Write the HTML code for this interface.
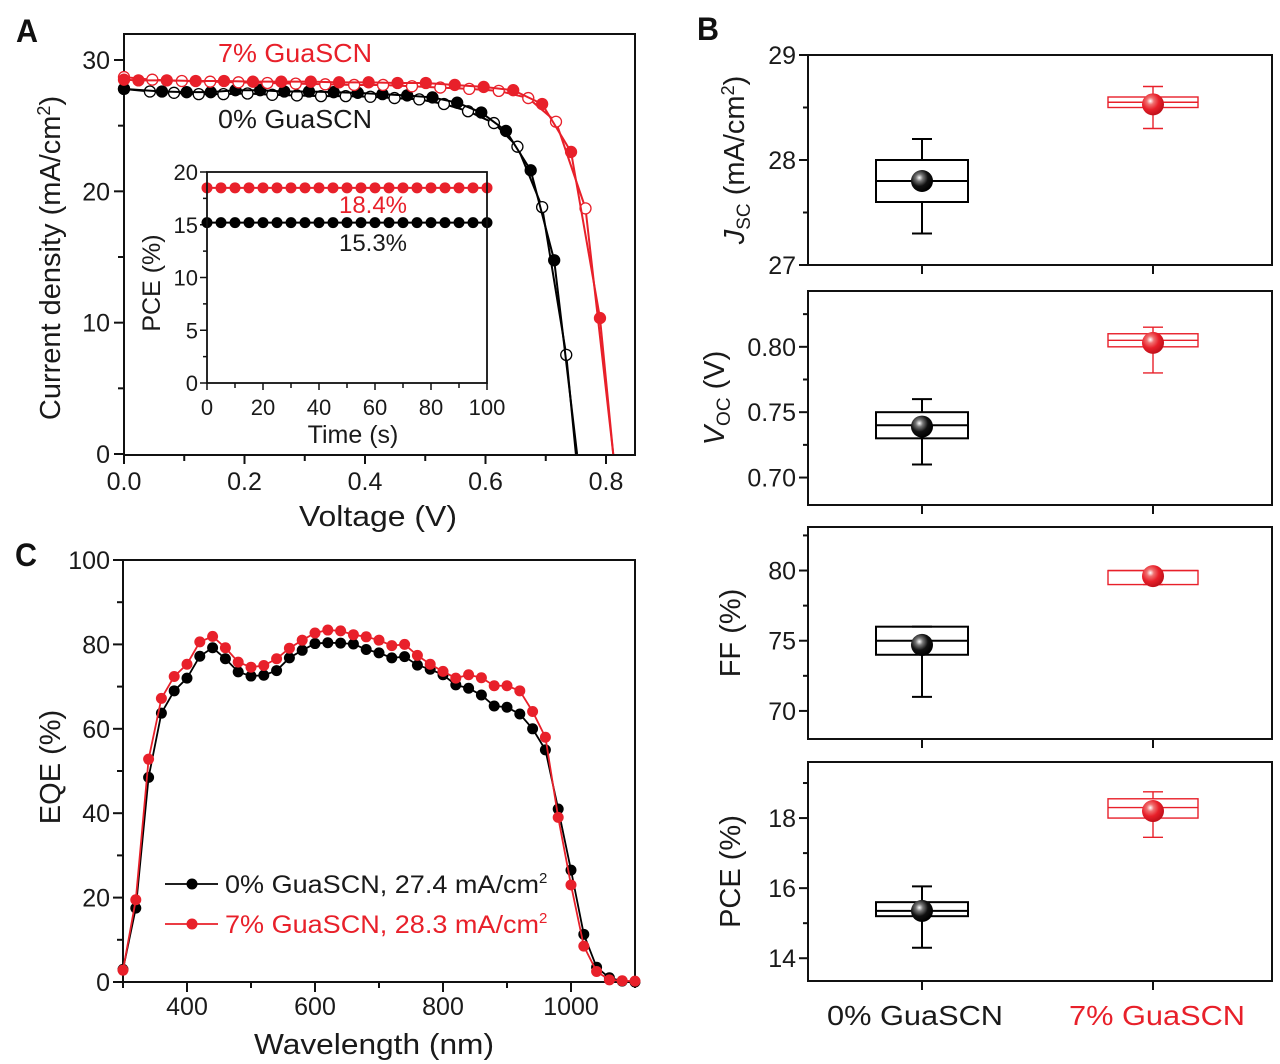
<!DOCTYPE html>
<html><head><meta charset="utf-8">
<style>
html,body{margin:0;padding:0;background:#fff;}
svg{display:block;font-family:"Liberation Sans",sans-serif;}
</style></head>
<body>
<svg id="fig" width="1280" height="1064" viewBox="0 0 1280 1064" xmlns="http://www.w3.org/2000/svg">
<defs>
<radialGradient id="gBlack" cx="0.38" cy="0.35" r="0.65"><stop offset="0" stop-color="#fff"/><stop offset="0.25" stop-color="#777"/><stop offset="0.6" stop-color="#111"/><stop offset="1" stop-color="#000"/></radialGradient>
<radialGradient id="gRed" cx="0.38" cy="0.35" r="0.65"><stop offset="0" stop-color="#fff"/><stop offset="0.25" stop-color="#f07070"/><stop offset="0.6" stop-color="#e8202a"/><stop offset="1" stop-color="#c0101a"/></radialGradient>
</defs>
</svg>
<script>
// ---------- Panel A data (J-V) ----------
const jvBlackOpenV = [0,0.043,0.083,0.124,0.165,0.205,0.246,0.287,0.327,0.368,0.409,0.449,0.490,0.531,0.571,0.614,0.653,0.694,0.734,0.750];
const jvBlackOpenJ = [27.8,27.6,27.5,27.4,27.4,27.45,27.35,27.3,27.25,27.25,27.2,27.1,27.0,26.65,26.1,25.2,23.4,18.8,7.55,0];
const jvBlackFillV = [0,0.063,0.104,0.144,0.185,0.226,0.266,0.307,0.348,0.388,0.429,0.470,0.512,0.553,0.593,0.634,0.675,0.714,0.752];
const jvBlackFillJ = [27.8,27.6,27.55,27.55,27.7,27.7,27.6,27.6,27.55,27.5,27.4,27.3,27.15,26.75,26.0,24.6,21.6,14.75,0];
const jvRedFillV = [0,0.024,0.071,0.119,0.166,0.214,0.261,0.310,0.357,0.406,0.454,0.501,0.549,0.597,0.646,0.694,0.742,0.790,0.812];
const jvRedFillJ = [28.5,28.45,28.45,28.4,28.4,28.35,28.35,28.35,28.3,28.3,28.25,28.25,28.1,27.95,27.7,26.65,23.0,10.35,0];
const jvRedOpenV = [0,0.047,0.096,0.143,0.190,0.238,0.285,0.334,0.382,0.430,0.478,0.525,0.573,0.622,0.671,0.717,0.766,0.812];
const jvRedOpenJ = [28.7,28.5,28.4,28.35,28.3,28.25,28.2,28.15,28.1,28.1,28.0,27.9,27.8,27.65,27.1,25.3,18.7,0];
const jvMarkedBlackOpen = 19, jvMarkedBlackFill = 18, jvMarkedRedFill = 18, jvMarkedRedOpen = 17;
const jvXTicks = [0,0.2,0.4,0.6,0.8];
const jvYTicks = [0,10,20,30];
// inset (PCE vs time)
const insetTime = [0,5,10,15,20,25,30,35,40,45,50,55,60,65,70,75,80,85,90,95,100];
const insetRed = [18.5,18.5,18.5,18.5,18.5,18.5,18.5,18.5,18.5,18.5,18.5,18.5,18.5,18.5,18.5,18.5,18.5,18.5,18.5,18.5,18.5];
const insetBlack = [15.2,15.2,15.2,15.2,15.2,15.2,15.2,15.2,15.2,15.2,15.2,15.2,15.2,15.2,15.2,15.2,15.2,15.2,15.2,15.2,15.2];
const insetXTicks = [0,20,40,60,80,100];
const insetYTicks = [0,5,10,15,20];
// ---------- Panel C data (EQE) ----------
const eqeWl = [300,320,340,360,380,400,420,440,460,480,500,520,540,560,580,600,620,640,660,680,700,720,740,760,780,800,820,840,860,880,900,920,940,960,980,1000,1020,1040,1060,1080,1100];
const eqeBlack = [3,17.5,48.5,63.7,69,72,77.2,79.2,76.6,73.5,72.5,72.7,73.8,76.8,78.6,80.2,80.4,80.3,80.1,78.8,78,76.8,77.1,75.1,74.1,72.8,70.4,69.6,68,65.4,65.1,63.5,60,55,41,26.5,11.3,3.5,1,0.2,0];
const eqeRed = [2.8,19.5,52.8,67.2,72.4,75.3,80.6,81.9,79.2,75.8,74.6,75,76.6,79.1,81,82.7,83.4,83.2,82.3,81.8,81,79.7,80,77.4,75.3,73.6,72,72.8,72.1,70.2,70.2,69,64.1,58,39,23,8.5,2.5,0.5,0.3,0.2];
const eqeXTicks = [400,600,800,1000];
const eqeYTicks = [0,20,40,60,80,100];
// ---------- Panel B data (box stats) ----------
const groups = ["0% GuaSCN","7% GuaSCN"];
const jscStats = [[27.3,27.6,27.8,28.0,28.2,27.8],[28.3,28.5,28.55,28.6,28.7,28.53]];
const vocStats = [[0.71,0.73,0.74,0.75,0.76,0.739],[0.78,0.80,0.805,0.81,0.815,0.803]];
const ffStats = [[71,74,75,76,76,74.7],[79,79,80,80,80,79.6]];
const pceStats = [[14.3,15.2,15.35,15.6,16.05,15.35],[17.45,18.0,18.3,18.55,18.75,18.2]];
const jscTicks = [27,28,29];
const vocTicks = [0.70,0.75,0.80];
const ffTicks = [70,75,80];
const pceTicks = [14,16,18];

const NS = "http://www.w3.org/2000/svg";
const svg = document.getElementById('fig');
const RED = "#e8202a";
function mk(tag, attrs, parent){
  const e = document.createElementNS(NS, tag);
  for (const k in attrs) e.setAttribute(k, attrs[k]);
  (parent||svg).appendChild(e);
  return e;
}
function lin(d0,d1,p0,p1){ return v => p0 + (v-d0)*(p1-p0)/(d1-d0); }
function txt(s, x, y, size, opts, parent){
  opts = opts||{};
  const t = mk('text', {x:x, y:y, 'font-size':size, fill:opts.fill||'#1a1a1a', 'text-anchor':opts.anchor||'middle'}, parent);
  if (opts.rot) t.setAttribute('transform', 'rotate(-90 '+x+' '+y+')');
  if (opts.weight) t.setAttribute('font-weight', opts.weight);
  if (opts.len) { t.setAttribute('textLength', opts.len); t.setAttribute('lengthAdjust','spacingAndGlyphs'); }
  t.textContent = s;
  return t;
}
function grp(){ return mk('g', {}); }

// ============ PANEL A ============
const A = grp();


const ax = lin(0, 0.8, 124, 606), ay = lin(0, 30, 454, 60);
let f = mk('rect', {x:124, y:34, width:511, height:421, fill:'none', stroke:'#111', 'stroke-width':2}, A);


for (let v=0; v<=0.85; v+=0.1) { const x=ax(v); const major = Math.abs(Math.round(v*10)%2)===0; mk('line',{x1:x,x2:x,y1:455,y2:major?464:461,stroke:'#111','stroke-width':2},A); }
for (let v=0; v<=31; v+=5) { const y=ay(v); const major = v%10===0; mk('line',{x1:124,x2:major?114:118,y1:y,y2:y,stroke:'#111','stroke-width':2},A); }
jvXTicks.forEach(v => { const t = txt(v.toFixed(1), ax(v), 490, 25, {}, A);   });
jvYTicks.forEach(v => { const t = txt(String(v), 110, ay(v)+9, 25, {anchor:'end'}, A);   });
let t = txt('Voltage (V)', 378, 526, 29, {len:158}, A);


t = mk('text', {x:60, y:258, 'font-size':29, fill:'#1a1a1a', 'text-anchor':'middle', transform:'rotate(-90 60 258)'}, A);


t.innerHTML = 'Current density (mA/cm<tspan dy="-10" font-size="18">2</tspan><tspan dy="10">)</tspan>';
t = txt('7% GuaSCN', 295, 62, 26, {fill:RED, len:154}, A);


t = txt('0% GuaSCN', 295, 128, 26, {len:154}, A);



function jvSeries(V, J, nMarked, color, filled, name){
  const g = mk('g', {}, A);
  
  
  const pts = V.map((v,i)=>ax(v)+','+ay(J[i])).join(' ');
  mk('polyline', {points:pts, fill:'none', stroke:color, 'stroke-width':2}, g);
  for (let i=0;i<nMarked;i++){
    const c = mk('circle', {cx:ax(V[i]), cy:ay(J[i]), r:5.5, fill: filled?color:'#fff', stroke:color, 'stroke-width':1.3}, g);
    
    
  }
}
jvSeries(jvBlackOpenV, jvBlackOpenJ, jvMarkedBlackOpen, '#000', false, 'series-0-reverse');
jvSeries(jvBlackFillV, jvBlackFillJ, jvMarkedBlackFill, '#000', true, 'series-0-forward');
jvSeries(jvRedOpenV, jvRedOpenJ, jvMarkedRedOpen, RED, false, 'series-7-reverse');
jvSeries(jvRedFillV, jvRedFillJ, jvMarkedRedFill, RED, true, 'series-7-forward');

// inset
const I = mk('g', {}, A);


const ix = lin(0,100,207,487), iy = lin(0,20,383,172);
mk('rect', {x:207, y:172, width:280, height:211, fill:'#fff', stroke:'none'}, I);
for (let v=0; v<=100; v+=10){ const x=ix(v); mk('line',{x1:x,x2:x,y1:383,y2:v%20===0?390:388,stroke:'#111','stroke-width':1.5},I); }
for (let v=0; v<=20; v+=2.5){ const y=iy(v); mk('line',{x1:207,x2:v%5===0?200:203,y1:y,y2:y,stroke:'#111','stroke-width':1.5},I); }
insetXTicks.forEach(v => { const tt = txt(String(v), ix(v), 415, 22, {}, I);   });
insetYTicks.forEach(v => { const tt = txt(String(v), 198, iy(v)+8, 22, {anchor:'end'}, I);   });
t = txt('Time (s)', 353, 443, 25, {}, I);


t = txt('PCE (%)', 160, 283, 25, {rot:true}, I);


[[insetRed,RED,'inset-series-7'],[insetBlack,'#000','inset-series-0']].forEach(([arr,col,nm])=>{
  const g = mk('g', {}, I);
  
  
  mk('polyline', {points: insetTime.map((tm,i)=>ix(tm)+','+iy(arr[i])).join(' '), fill:'none', stroke:col, 'stroke-width':2}, g);
  insetTime.forEach((tm,i)=>{
    const c = mk('circle', {cx:ix(tm), cy:iy(arr[i]), r:5.5, fill:col}, g);
    
    
  });
});
mk('rect', {x:207, y:172, width:280, height:211, fill:'none', stroke:'#111', 'stroke-width':1.8}, I);
t = txt('18.4%', 373, 213, 24, {fill:RED}, I);


t = txt('15.3%', 373, 251, 24, {}, I);



// ============ PANEL C ============
const C = grp();


const cx = lin(300,1100,123,635), cy = lin(0,100,982,560);
f = mk('rect', {x:123, y:560, width:512, height:422, fill:'none', stroke:'#111', 'stroke-width':2}, C);


for (let v=300; v<=1100; v+=100){ const x=cx(v); const major = v%200===0; mk('line',{x1:x,x2:x,y1:982,y2:major?992:988,stroke:'#111','stroke-width':2},C); }
for (let v=0; v<=100; v+=10){ const y=cy(v); mk('line',{x1:123,x2:v%20===0?113:117,y1:y,y2:y,stroke:'#111','stroke-width':2},C); }
eqeXTicks.forEach(v => { const tt = txt(String(v), cx(v), 1015, 25, {}, C);   });
eqeYTicks.forEach(v => { const tt = txt(String(v), 110, cy(v)+9, 25, {anchor:'end'}, C);   });
t = txt('Wavelength (nm)', 374, 1054, 29, {len:240}, C);


t = txt('EQE (%)', 60, 767, 29, {rot:true}, C);


[[eqeBlack,'#000','eqe-series-0'],[eqeRed,RED,'eqe-series-7']].forEach(([arr,col,nm])=>{
  const g = mk('g', {}, C);
  
  
  mk('polyline', {points: eqeWl.map((w,i)=>cx(w)+','+cy(arr[i])).join(' '), fill:'none', stroke:col, 'stroke-width':1.8}, g);
  eqeWl.forEach((w,i)=>{
    const c = mk('circle', {cx:cx(w), cy:cy(arr[i]), r:5.5, fill:col}, g);
    
    
  });
});
// legend
const L = mk('g', {}, C);


[[884,'#000','0% GuaSCN, 27.4 mA/cm'],[924,RED,'7% GuaSCN, 28.3 mA/cm']].forEach(([y,col,s])=>{
  const g = mk('g', {}, L);
  
  
  mk('line', {x1:165, x2:218, y1:y, y2:y, stroke:col, 'stroke-width':1.8}, g);
  mk('circle', {cx:192, cy:y, r:5.5, fill:col}, g);
  const tt = mk('text', {x:225, y:y+9, 'font-size':25, fill:col === '#000' ? '#1a1a1a' : col}, g);
  tt.innerHTML = '<tspan textLength="314" lengthAdjust="spacingAndGlyphs">'+s+'</tspan><tspan dy="-10" font-size="15">2</tspan>';
});

// ============ PANEL B ============
const B = grp();


const bx = [922, 1153];
function boxPanel(name, stats, ticks, dmin, dmax, top, bot, minorStep, fmt, titleFn){
  const g = mk('g', {}, B);
  
  
  const y = lin(dmin, dmax, bot, top);
  mk('rect', {x:808, y:top, width:464, height:bot-top, fill:'none', stroke:'#111', 'stroke-width':2}, g);
  bx.forEach(x => mk('line', {x1:x, x2:x, y1:bot, y2:bot+9, stroke:'#111', 'stroke-width':2}, g));
  const first = Math.ceil(dmin/minorStep - 1e-9);
  for (let k=first; k*minorStep<=dmax+1e-9; k++){
    const v = k*minorStep; const isMajor = ticks.some(tk=>Math.abs(tk-v)<1e-9);
    mk('line', {x1:808, x2:isMajor?799:803, y1:y(v), y2:y(v), stroke:'#111', 'stroke-width':2}, g);
  }
  ticks.forEach(v => { const tt = txt(fmt(v), 796, y(v)+9, 25, {anchor:'end'}, g);   });
  titleFn(g, (top+bot)/2);
  stats.forEach((s,i)=>{
    const col = i===0 ? '#000' : RED;
    const hw = i===0 ? 46 : 45;
    const x = bx[i];
    const bg = mk('g', {}, g);
    
    
    const sw = i===0 ? 2 : 1.4;
    mk('line', {x1:x, x2:x, y1:y(s[0]), y2:y(s[1]), stroke:col, 'stroke-width':sw}, bg);
    mk('line', {x1:x, x2:x, y1:y(s[3]), y2:y(s[4]), stroke:col, 'stroke-width':sw}, bg);
    mk('line', {x1:x-10, x2:x+10, y1:y(s[0]), y2:y(s[0]), stroke:col, 'stroke-width':sw}, bg);
    mk('line', {x1:x-10, x2:x+10, y1:y(s[4]), y2:y(s[4]), stroke:col, 'stroke-width':sw}, bg);
    mk('rect', {x:x-hw, y:y(s[3]), width:2*hw, height:y(s[1])-y(s[3]), fill:'none', stroke:col, 'stroke-width':sw}, bg);
    mk('line', {x1:x-hw, x2:x+hw, y1:y(s[2]), y2:y(s[2]), stroke:col, 'stroke-width':sw}, bg);
    const m = mk('circle', {cx:x, cy:y(s[5]), r:11, fill:i===0?'url(#gBlack)':'url(#gRed)'}, bg);
    
    
  });
}
function rotTitle(g, cyv, html, name, x){
  const tt = mk('text', {x:x||737, y:cyv, 'font-size':29, fill:'#1a1a1a', 'text-anchor':'middle', transform:'rotate(-90 '+(x||737)+' '+cyv+')'}, g);
  
  
  tt.innerHTML = html;
}
boxPanel('jsc-box-chart', jscStats, jscTicks, 27, 29, 55, 265, 0.5, v=>String(v),
  (g,c)=>rotTitle(g, c, '<tspan font-style="italic">J</tspan><tspan font-size="19" dy="6">SC</tspan><tspan dy="-6"> (mA/cm</tspan><tspan dy="-10" font-size="18">2</tspan><tspan dy="10">)</tspan>', 'jsc-axis-title', 744));
boxPanel('voc-box-chart', vocStats, vocTicks, 0.679, 0.8427, 291, 505, 0.025, v=>v.toFixed(2),
  (g,c)=>rotTitle(g, c, '<tspan font-style="italic">V</tspan><tspan font-size="19" dy="6">OC</tspan><tspan dy="-6"> (V)</tspan>', 'voc-axis-title', 724));
boxPanel('ff-box-chart', ffStats, ffTicks, 68, 83.1, 527, 739, 2.5, v=>String(v),
  (g,c)=>rotTitle(g, c, 'FF (%)', 'ff-axis-title', 740));
boxPanel('pce-box-chart', pceStats, pceTicks, 13.35, 19.6, 762, 981, 1, v=>String(v),
  (g,c)=>rotTitle(g, c, 'PCE (%)', 'pce-axis-title', 740));
groups.forEach((s,i)=>{
  const tt = txt(s, i===0?915:1157, 1025, 28, {fill:i===0?'#1a1a1a':RED, len:176}, B);
  
  
});

// panel letters
[['A',16,42],['B',697,40],['C',15,566]].forEach(([s,x,y])=>{
  const tt = txt(s, x, y, 32, {anchor:'start', weight:'bold', len:22, fill:'#111'});
  
  
});
</script>
</body></html>
